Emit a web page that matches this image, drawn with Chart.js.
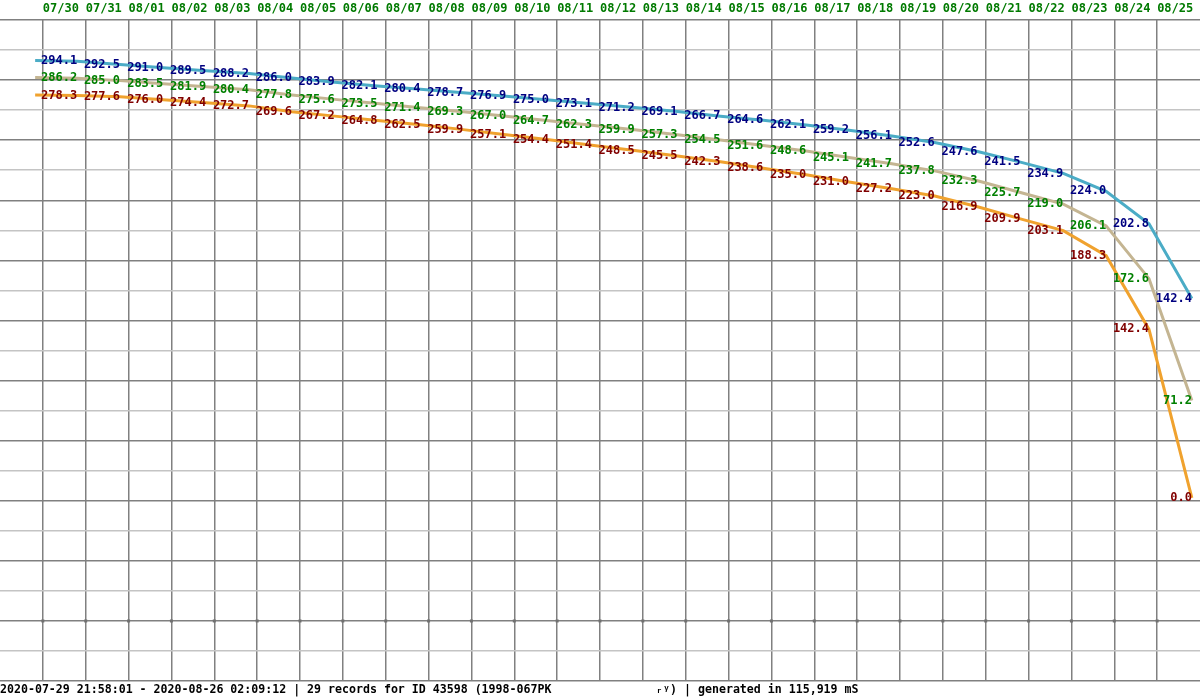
<!DOCTYPE html>
<html>
<head>
<meta charset="utf-8">
<script src="https://cdn.jsdelivr.net/npm/chart.js@4.4.1/dist/chart.umd.min.js"></script>
<style>
  html, body { margin: 0; padding: 0; background: #fff; }
</style>
</head>
<body>
<canvas id="orbit" width="1200" height="700"></canvas>
<script>
// Days since 2020-07-29 00:00 for each record drawn on the chart.
const recordDays = [0.82, 1.80, 2.80, 3.81, 4.81, 5.81, 6.81, 7.81, 8.81, 9.81,
    10.81, 11.81, 12.81, 13.81, 14.81, 15.81, 16.81, 17.81, 18.81, 19.81,
    20.81, 21.81, 22.81, 23.81, 24.81, 25.81, 26.81, 27.81];

const dateLabels = ['07/30', '07/31', '08/01', '08/02', '08/03', '08/04', '08/05',
    '08/06', '08/07', '08/08', '08/09', '08/10', '08/11', '08/12', '08/13', '08/14',
    '08/15', '08/16', '08/17', '08/18', '08/19', '08/20', '08/21', '08/22', '08/23',
    '08/24', '08/25'];

const apogee = [294.4, 294.1, 292.5, 291.0, 289.5, 288.2, 286.0, 283.9, 282.1, 280.4,
    278.7, 276.9, 275.0, 273.1, 271.2, 269.1, 266.7, 264.6, 262.1, 259.2,
    256.1, 252.6, 247.6, 241.5, 234.9, 224.0, 202.8, 142.4];

const meanAlt = [286.5, 286.2, 285.0, 283.5, 281.9, 280.4, 277.8, 275.6, 273.5, 271.4,
    269.3, 267.0, 264.7, 262.3, 259.9, 257.3, 254.5, 251.6, 248.6, 245.1,
    241.7, 237.8, 232.3, 225.7, 219.0, 206.1, 172.6, 71.2];

const perigee = [278.5, 278.3, 277.6, 276.0, 274.4, 272.7, 269.6, 267.2, 264.8, 262.5,
    259.9, 257.1, 254.4, 251.4, 248.5, 245.5, 242.3, 238.6, 235.0, 231.0,
    227.2, 223.0, 216.9, 209.9, 203.1, 188.3, 142.4, 0.0];

const footerText = '2020-07-29 21:58:01 - 2020-08-26 02:09:12 | 29 records for ID 43598 (1998-067PK               \u1d63\u1d5e) | generated in 115,919 mS';

const MONO = '"DejaVu Sans Mono", "Liberation Mono", monospace';

// The source stretches the upper range of each curve: values go through sign(v)*|v|^k.
function powT(v, k) { return Math.sign(v) * Math.pow(Math.abs(v), k); }
function powInv(t, k) { return Math.sign(t) * Math.pow(Math.abs(t), 1 / k); }

class PowerScale extends Chart.LinearScale {
    getPixelForValue(value) {
        if (value == null || isNaN(value)) return NaN;
        const k = this.options.exponent || 1;
        const a = powT(this.min, k);
        const b = powT(this.max, k);
        return this.getPixelForDecimal((powT(value, k) - a) / (b - a));
    }
    getValueForPixel(pixel) {
        const k = this.options.exponent || 1;
        const a = powT(this.min, k);
        const b = powT(this.max, k);
        return powInv(a + this.getDecimalForPixel(pixel) * (b - a), k);
    }
}
PowerScale.id = 'power';
PowerScale.defaults = {};
Chart.register(PowerScale);

const series = [
    { label: 'apogee', values: apogee, line: '#4bacc6', text: '#000080', axis: 'yApo' },
    { label: 'mean', values: meanAlt, line: '#c4b592', text: '#008000', axis: 'yMean' },
    { label: 'perigee', values: perigee, line: '#f0a22e', text: '#800000', axis: 'yPeri' },
];

// Value labels, right-aligned on each point (the first record has none in the source).
const valueLabels = {
    id: 'valueLabels',
    afterDatasetsDraw(chart) {
        const ctx = chart.ctx;
        ctx.save();
        ctx.font = 'bold 12px ' + MONO;
        ctx.textAlign = 'right';
        ctx.textBaseline = 'middle';
        chart.data.datasets.forEach((ds, i) => {
            const meta = chart.getDatasetMeta(i);
            ctx.fillStyle = ds.__textColor;
            meta.data.forEach((pt, j) => {
                if (j === 0) return;
                ctx.fillText(ds.data[j].y.toFixed(1), pt.x, pt.y);
            });
        });
        ctx.restore();
    }
};

// Small square markers on the grid row near the bottom.
const gridMarks = {
    id: 'gridMarks',
    beforeDatasetsDraw(chart) {
        const x = chart.scales.x;
        const y = chart.scales.yGrid.getPixelForValue(2);
        const ctx = chart.ctx;
        ctx.save();
        ctx.fillStyle = '#707070';
        x.ticks.forEach(t => {
            ctx.fillRect(x.getPixelForValue(t.value) - 1.5, y - 1.5, 3, 3);
        });
        ctx.restore();
    }
};

const hiddenPower = (exponent, min, max) => ({ type: 'power', display: false, exponent, min, max });

new Chart(document.getElementById('orbit'), {
    type: 'line',
    data: {
        datasets: series.map(s => ({
            label: s.label,
            data: s.values.map((v, i) => ({ x: recordDays[i], y: v })),
            borderColor: s.line,
            backgroundColor: s.line,
            borderWidth: 3,
            pointRadius: 0,
            tension: 0,
            fill: false,
            yAxisID: s.axis,
            __textColor: s.text,
        })),
    },
    options: {
        responsive: false,
        devicePixelRatio: 1,
        animation: false,
        layout: { padding: 0 },
        plugins: {
            legend: { display: false },
            tooltip: { enabled: false },
            title: {
                display: true,
                position: 'bottom',
                align: 'start',
                text: footerText,
                color: '#000',
                font: { family: MONO, size: 11.6, weight: 'bold' },
                padding: { top: 2, bottom: 3 },
            },
        },
        scales: {
            x: {
                type: 'linear',
                position: 'top',
                min: 0,
                max: 28,
                afterBuildTicks: axis => {
                    axis.ticks = axis.ticks.filter(t => t.value >= 1 && t.value <= 27);
                },
                afterFit: axis => { axis.height = 20; },
                ticks: {
                    stepSize: 1,
                    autoSkip: false,
                    maxRotation: 0,
                    align: 'start',
                    padding: 4,
                    color: '#007a00',
                    font: { family: MONO, size: 12, weight: 'bold' },
                    callback: v => dateLabels[v - 1] || '',
                },
                grid: { color: '#808080', lineWidth: 1.5, drawTicks: false },
                border: { display: false },
            },
            yApo: hiddenPower(2, -294.0, 313.0),
            yMean: hiddenPower(1.6, -222.5, 314.2),
            yPeri: hiddenPower(1.3, -152.0, 317.6),
            yGrid: {
                type: 'linear',
                position: 'left',
                min: 0,
                max: 22,
                afterFit: axis => { axis.width = 0; },
                ticks: { stepSize: 1, display: false },
                grid: {
                    drawTicks: false,
                    lineWidth: 1.5,
                    color: ctx => (ctx.tick && ctx.tick.value % 2) ? '#c4c4c4' : '#808080',
                },
                border: { display: false },
            },
        },
    },
    plugins: [valueLabels, gridMarks],
});
</script>
</body>
</html>
